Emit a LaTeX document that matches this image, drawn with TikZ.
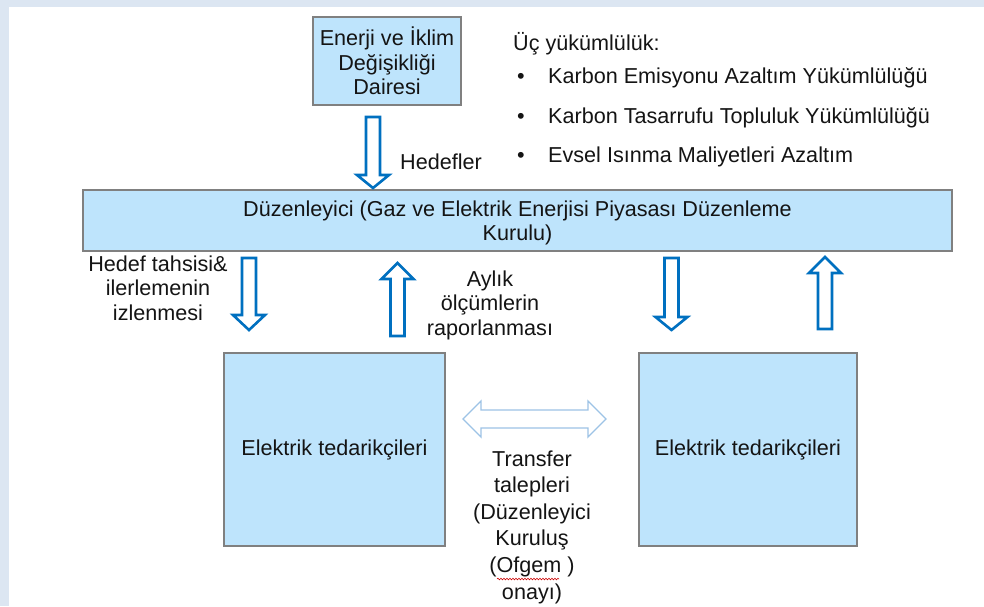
\documentclass[tikz,border=0pt]{standalone}
\usepackage{fontspec}
\setmainfont{Liberation Sans}
\usetikzlibrary{decorations.pathmorphing}
\definecolor{frameblue}{RGB}{220,230,242}
\definecolor{boxfill}{RGB}{190,228,252}
\definecolor{boxline}{RGB}{128,128,128}
\definecolor{arrblue}{RGB}{0,112,192}
\definecolor{lightarr}{RGB}{157,195,230}
\definecolor{txt}{RGB}{20,20,20}
\newcommand\myDownArrow[4]{% center x, top y, head base y, tip y
  \draw[barrow] ({#1-7},#2) -- ({#1+7},#2) -- ({#1+7},#3) -- ({#1+16},#3) -- (#1,#4) -- ({#1-16},#3) -- ({#1-7},#3) -- cycle;}
\newcommand\myUpArrow[4]{% center x, bottom y, head base y, tip y
  \draw[barrow] ({#1-7},#2) -- ({#1+7},#2) -- ({#1+7},#3) -- ({#1+16},#3) -- (#1,#4) -- ({#1-16},#3) -- ({#1-7},#3) -- cycle;}
\begin{document}
\begin{tikzpicture}[x=1pt,y=-1pt,
  box/.style={draw=boxline, line width=1.5pt, fill=boxfill, inner sep=0pt, align=center,
    font=\fontsize{21.6}{24.5}\selectfont, text=txt},
  lbl/.style={align=center, inner sep=0pt, font=\fontsize{21.6}{24.5}\selectfont, text=txt},
  barrow/.style={draw=arrblue, line width=2.6pt, fill=white, line join=miter},
  dblarrow/.style={draw=lightarr, line width=1.3pt, fill=white, line join=miter}]
\useasboundingbox (0,0) rectangle (984,606);
\fill[frameblue] (0,0) rectangle (984,606);
\fill[white] (9,7) rectangle (984,606);

% boxes
\node[box, minimum width=148, minimum height=88] (dept) at (387,61)
  {Enerji ve İklim\\Değişikliği\\Dairesi};
\node[box, minimum width=869, minimum height=61] (reg) at (517.5,220.5) {};
\node[lbl] (regtext) at (517.5,223)
  {Düzenleyici (Gaz ve Elektrik Enerjisi Piyasası Düzenleme\\Kurulu)};
\node[box, minimum width=221, minimum height=193] (sup1) at (334.5,449.5)
  {Elektrik tedarikçileri};
\node[box, minimum width=218, minimum height=193] (sup2) at (748,449.5)
  {Elektrik tedarikçileri};

% block arrows
\myDownArrow{373}{117}{175}{188}
\myDownArrow{249}{258}{315}{330}
\myUpArrow{397.5}{336}{279}{263}
\myDownArrow{671.5}{258}{317}{330}
\myUpArrow{825}{329}{273}{257}

% double arrow
\draw[dblarrow] (463,419) -- (481,401) -- (481,410) -- (588,410) -- (588,401) -- (606,419)
  -- (588,437) -- (588,428) -- (481,428) -- (481,437) -- cycle;

% labels
\node[lbl] (hed) at (441,162) {Hedefler};
\node[lbl] (hts) at (158,288) {Hedef tahsisi\&\\ilerlemenin\\izlenmesi};
\node[lbl] (ayl) at (490,305) {Aylık\\ölçümlerin\\raporlanması};
\node[lbl, font=\fontsize{21.6}{26.6}\selectfont] (trf) at (532,527)
  {Transfer\\talepleri\\(Düzenleyici\\Kuruluş\\(Ofgem )\\onayı)};
\draw[red!80!black, line width=0.6pt, decorate,
  decoration={snake, amplitude=0.8pt, segment length=3pt}] (497,579) -- (559,579);

% obligations list
\node[lbl, anchor=west] (uc) at (513,44) {Üç yükümlülük:};
\node[lbl] (b1) at (521,78) {•};
\node[lbl, anchor=west] (t1) at (548,78) {Karbon Emisyonu Azaltım Yükümlülüğü};
\node[lbl] (b2) at (521,118) {•};
\node[lbl, anchor=west] (t2) at (548,118) {Karbon Tasarrufu Topluluk Yükümlülüğü};
\node[lbl] (b3) at (521,157) {•};
\node[lbl, anchor=west] (t3) at (548,157) {Evsel Isınma Maliyetleri Azaltım};
\end{tikzpicture}
\end{document}
